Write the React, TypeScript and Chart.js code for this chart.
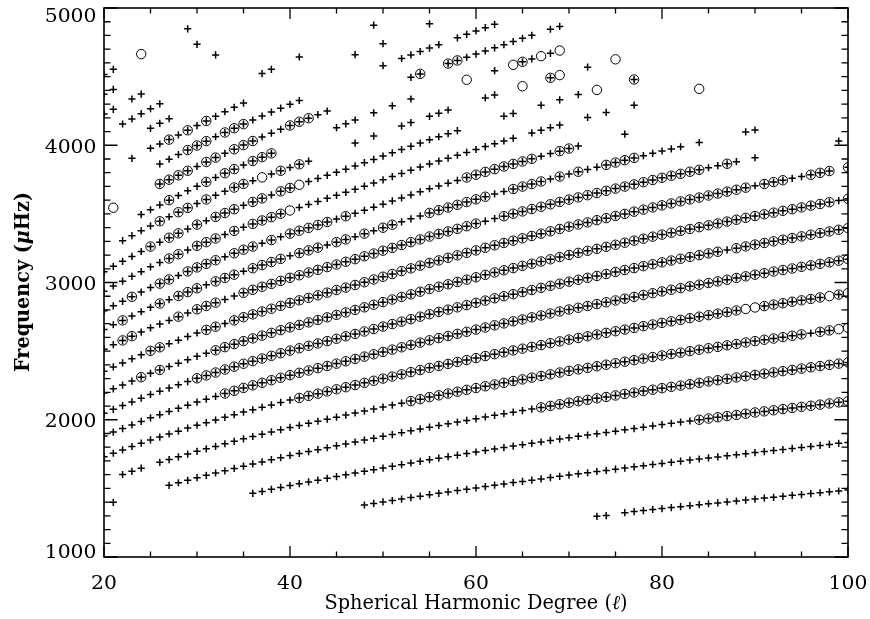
import React, { useEffect, useRef } from "react";
import { Chart, registerables } from "chart.js";

Chart.register(...registerables);

// ---- axis ranges and tick labels ----
const X_MIN = 20;
const X_MAX = 100;
const Y_MIN = 1000;
const Y_MAX = 5000;
const X_TICK_VALUES = [20, 40, 60, 80, 100];
const X_TICK_LABELS = ["20", "40", "60", "80", "100"];
const Y_TICK_VALUES = [1000, 2000, 3000, 4000, 5000];
const Y_TICK_LABELS = ["1000", "2000", "3000", "4000", "5000"];
const X_MINOR_STEP = 5;
const Y_MINOR_STEP = 100;

// marker codes: '+' = plus, 'o' = circle with plus, 'c' = open circle, '.' = no point
const plus = (n: number) => "+".repeat(n);
const ring = (n: number) => "o".repeat(n);
const gap = (n: number) => ".".repeat(n);

// ---- ridges: first degree, frequencies (uHz) per degree, marker codes ----
const RIDGE_A_START = 73;
const RIDGE_A_FREQ = [1296, 1302, null, 1323, 1331, 1338, 1346, 1353, 1360, 1367, 1374, 1381, 1388, 1394, 1401, 1408, 1415, 1422, 1429, 1435, 1442, 1449, 1455, 1462, 1468, 1475, 1481, 1488];
const RIDGE_A_MARK = "++." + plus(25);

const RIDGE_B_START = 48;
const RIDGE_B_FREQ = [1379, 1390, 1401, 1411, 1422, 1433, 1443, 1454, 1464, 1474, 1484, 1493, 1503, 1513, 1523, 1532, 1542, 1551, 1560, 1569, 1579, 1588, 1597, 1606, 1614, 1623, 1631, 1640, 1648, 1657, 1665, 1674, 1682, 1690, 1698, 1706, 1714, 1722, 1729, 1737, 1745, 1753, 1761, 1768, 1776, 1783, 1791, 1798, 1805, 1813, 1820, 1828, 1835];
const RIDGE_B_MARK = plus(53);

const RIDGE_C_START = 36;
const RIDGE_C_FREQ = [1464, 1478, 1493, 1507, 1521, 1534, 1547, 1560, 1573, 1586, 1599, 1612, 1624, 1636, 1648, 1661, 1673, 1685, 1697, 1709, 1720, 1731, 1742, 1754, 1765, 1776, 1787, 1797, 1808, 1818, 1828, 1838, 1849, 1859, 1869, 1879, 1888, 1898, 1907, 1917, 1927, 1936, 1946, 1955, 1965, 1974, 1983, 1991, 2000, 2009, 2018, 2027, 2035, 2044, 2053, 2061, 2069, 2078, 2086, 2094, 2102, 2110, 2119, 2127, 2135];
const RIDGE_C_MARK = plus(48) + ring(17);

const RIDGE_D_START = 21;
const RIDGE_D_FREQ = [1398, null, null, null, null, null, 1522, 1541, 1559, 1578, 1595, 1612, 1628, 1645, 1662, 1678, 1693, 1709, 1724, 1740, 1754, 1768, 1782, 1796, 1810, 1824, 1838, 1852, 1865, 1879, 1892, 1906, 1919, 1933, 1946, 1958, 1971, 1983, 1995, 2007, 2020, 2032, 2044, 2055, 2067, 2078, 2090, 2101, 2113, 2124, 2135, 2145, 2156, 2166, 2177, 2188, 2198, 2209, 2219, 2230, 2240, 2249, 2259, 2269, 2279, 2288, 2298, 2308, 2317, 2327, 2336, 2345, 2354, 2363, 2373, 2382, 2391, 2400, 2409, 2418];
const RIDGE_D_MARK = "+" + gap(5) + plus(40) + ring(34);

const RIDGE_E_START = 22;
const RIDGE_E_FREQ = [1601, 1624, 1647, null, 1690, 1710, 1730, 1750, 1770, 1788, 1806, 1825, 1843, 1861, 1878, 1894, 1911, 1927, 1944, 1959, 1974, 1989, 2004, 2019, 2034, 2049, 2063, 2078, 2092, 2107, 2121, 2136, 2150, 2165, 2178, 2191, 2204, 2218, 2231, 2244, 2257, 2269, 2282, 2294, 2307, 2319, 2331, 2344, 2356, 2367, 2378, 2390, 2401, 2412, 2423, 2434, 2446, 2457, 2468, 2479, 2489, 2500, 2510, 2521, 2531, 2542, 2552, 2563, 2573, 2583, 2592, 2602, 2612, 2622, 2631, 2641, 2651, 2660, 2670];
const RIDGE_E_MARK = "+++." + plus(27) + ring(43) + "+" + "oo" + "cc";

const RIDGE_F_START = 20;
const RIDGE_F_FREQ = [1730, 1756, 1780, 1805, 1829, 1853, 1874, 1896, 1917, 1939, 1960, 1979, 1998, 2018, 2037, 2056, 2073, 2091, 2108, 2126, 2143, 2159, 2174, 2190, 2206, 2222, 2237, 2253, 2269, 2284, 2300, 2315, 2331, 2347, 2362, 2378, 2392, 2407, 2421, 2435, 2449, 2464, 2478, 2491, 2505, 2518, 2531, 2544, 2558, 2571, 2584, 2596, 2608, 2621, 2633, 2645, 2657, 2669, 2682, 2694, 2706, 2717, 2728, 2740, 2751, 2762, 2773, 2784, 2796, 2807, 2818, 2828, 2839, 2849, 2860, 2870, 2880, 2891, 2901, 2912, 2922];
const RIDGE_F_MARK = plus(21) + ring(48) + "cc" + ring(7) + "c" + "o" + "c";

const RIDGE_G_START = 20;
const RIDGE_G_FREQ = [1882, 1910, 1936, 1962, 1988, 2014, 2037, 2060, 2083, 2106, 2129, 2150, 2170, 2191, 2211, 2232, 2251, 2269, 2288, 2306, 2325, 2342, 2359, 2376, 2392, 2409, 2426, 2443, 2460, 2477, 2494, 2511, 2528, 2545, 2562, 2579, 2595, 2610, 2626, 2641, 2657, 2672, 2688, 2702, 2717, 2731, 2746, 2760, 2774, 2789, 2803, 2816, 2829, 2843, 2856, 2869, 2882, 2895, 2909, 2922, 2935, 2947, 2959, 2972, 2984, 2996, 3008, 3020, 3033, 3045, 3057, 3068, 3080, 3091, 3102, 3114, 3125, 3136, 3147, 3159, 3170];
const RIDGE_G_MARK = plus(13) + ring(68);

const RIDGE_H_START = 20;
const RIDGE_H_FREQ = [2047, 2076, 2103, 2130, 2157, 2184, 2208, 2231, 2255, 2278, 2302, 2323, 2344, 2366, 2387, 2408, 2427, 2446, 2466, 2485, 2504, 2521, 2539, 2556, 2573, 2590, 2608, 2625, 2643, 2661, 2679, 2697, 2715, 2733, 2751, 2769, 2786, 2802, 2819, 2835, 2852, 2868, 2885, 2900, 2915, 2930, 2945, 2961, 2976, 2991, 3006, 3020, 3034, 3048, 3062, 3077, 3091, 3105, 3119, 3133, 3147, 3160, 3173, 3186, 3199, 3212, 3224, 3237, 3250, 3263, 3276, 3288, 3300, 3312, 3324, 3336, 3348, 3360, 3372, 3384, 3396];
const RIDGE_H_MARK = plus(10) + ring(57) + "+" + ring(13);

const RIDGE_I_START = 20;
const RIDGE_I_FREQ = [2194, 2225, 2253, 2282, 2310, 2338, 2363, 2388, 2412, 2437, 2462, 2484, 2506, 2529, 2551, 2573, 2593, 2613, 2633, 2653, 2673, 2691, 2709, 2727, 2746, 2764, 2782, 2800, 2819, 2838, 2857, 2876, 2895, 2914, 2933, 2952, 2969, 2987, 3004, 3021, 3038, 3056, 3073, 3089, 3105, 3121, 3137, 3153, 3169, 3185, 3201, 3216, 3231, 3245, 3260, 3275, 3290, 3305, 3319, 3334, 3349, 3363, 3376, 3390, 3403, 3417, 3430, 3444, 3457, 3471, 3484, 3497, 3509, 3522, 3534, 3547, 3560, 3572, 3585, 3597, 3610];
const RIDGE_I_MARK = "++++o+o+++++" + ring(67) + "+" + "o";

const RIDGE_J_START = 20;
const RIDGE_J_FREQ = [2353, 2385, 2414, 2444, 2473, 2502, 2528, 2554, 2580, 2606, 2632, 2655, 2678, 2701, 2724, 2747, 2768, 2789, 2809, 2830, 2851, 2870, 2888, 2907, 2926, 2945, 2963, 2982, 3002, 3022, 3042, 3062, 3083, 3103, 3123, 3143, 3161, 3180, 3198, 3216, 3234, 3253, 3271, 3288, 3305, 3322, 3339, 3356, 3373, 3390, 3407, 3423, 3438, 3454, 3469, 3485, 3500, 3516, 3531, 3547, 3562, 3576, 3591, 3605, 3619, 3634, 3648, 3662, 3676, 3691, 3705, 3718, 3732, 3745, 3759, 3772, 3785, 3799, 3812, null, 3839];
const RIDGE_J_MARK = "+++++oo++++oo+" + ring(56) + "+" + "ooo" + "++" + "ooo" + "." + "o";

const RIDGE_K_START = 20;
const RIDGE_K_FREQ = [2514, 2547, 2578, 2609, 2639, 2670, 2697, 2724, 2751, 2778, 2805, 2829, 2853, 2877, 2901, 2925, 2947, 2969, 2990, 3012, 3034, 3053, 3073, 3092, 3112, 3131, 3151, 3170, 3191, 3211, 3232, 3252, 3273, 3294, 3314, 3335, 3354, 3372, 3391, 3410, 3429, 3447, 3466, 3483, 3501, 3518, 3535, 3552, 3570, 3587, 3604, 3620, 3636, 3652, 3668, 3684, 3699, 3715, 3731, 3747, 3763, 3778, 3792, 3807, 3821, 3836, 3851, 3865, 3880, null, 3909, null, null, null, null, null, null, null, null, 4031];
const RIDGE_K_MARK = "++oo++++o+ooo++" + ring(26) + "++" + ring(22) + "++" + "o" + "+" + "." + "+" + gap(8) + "+";

const RIDGE_L_START = 20;
const RIDGE_L_FREQ = [2657, 2692, 2724, 2756, 2787, 2819, 2847, 2875, 2902, 2930, 2958, 2983, 3008, 3033, 3057, 3082, 3104, 3127, 3149, 3172, 3194, 3214, 3234, 3254, 3274, 3294, 3314, 3334, 3356, 3377, 3399, 3421, 3442, 3464, 3485, 3507, 3527, 3546, 3566, 3586, 3606, 3625, 3645, 3663, 3681, 3699, 3717, 3736, 3754, 3772, 3790, 3807, 3824, 3840, 3857, 3874, 3891, 3908, 3924, 3941, 3958, 3973, 3989, null, 4020, null, null, null, null, 4097, 4111];
const RIDGE_L_MARK = "++o+++o+ooo+ooo+oooo+ooo+oo" + "+o+oo+++ooooooo++oooo+o+o+" + "+" + "oooo" + "+++++" + "." + "+" + "...." + "++";

const RIDGE_M_START = 20;
const RIDGE_M_FREQ = [2794, 2830, 2863, 2896, 2930, 2963, 2992, 3022, 3051, 3081, 3110, 3136, 3162, 3187, 3213, 3239, 3262, 3286, 3309, 3333, 3356, 3377, 3398, 3419, 3441, 3462, 3483, 3504, 3526, 3549, 3571, 3594, 3616, 3638, 3661, 3683, 3703, 3724, 3744, 3765, 3785, 3806, 3826, 3845, 3864, 3882, 3901, 3920, 3939, 3957, 3976, 3994, null, null, null, null, 4081];
const RIDGE_M_MARK = "+++o++oo+oooo+ooo+o+ooooo+o" + "++++++++++++oooooooo++oo+" + "...." + "+";

const RIDGE_N_START = 20;
const RIDGE_N_FREQ = [2937, 2975, 3010, 3045, 3079, 3114, 3145, 3175, 3206, 3236, 3267, 3294, 3321, 3349, 3376, 3403, 3427, 3452, 3476, 3501, 3525, 3547, 3569, 3591, 3613, 3635, 3657, 3679, 3702, 3725, 3748, 3772, 3795, 3818, 3841, 3864, 3885, 3906, 3927, 3948, 3969, 3990, 4011, 4031, 4051, null, 4090, 4109, 4128, 4147, null, null, 4203, null, 4239, null, null, 4292, null, null, null, null, null, null, 4411];
const RIDGE_N_MARK = "+++++++oo+ooo+o+ooooc++++++" + plus(18) + "." + "++++" + ".." + "+" + "." + "+" + ".." + "+" + "......" + "c";

const RIDGE_O_START = 20;
const RIDGE_O_FREQ = [3079, 3118, 3154, 3190, 3226, 3262, 3294, 3326, 3358, 3390, 3422, 3450, 3478, 3506, 3534, 3562, 3587, 3613, 3638, 3664, 3689, 3712, 3735, 3758, 3781, 3803, 3826, 3849, 3873, 3897, 3921, 3945, 3969, 3992, 4016, 4040, 4062, 4084, 4106, null, null, null, null, 4212, 4232, null, null, 4292, null, 4331, null, 4369, null, 4403, null, null, null, 4479];
const RIDGE_O_MARK = "+++++o+oo+o+ooo+oo+ooc+++++" + plus(12) + "...." + "++..+.+.+.c...o";

const RIDGE_P_START = 22;
const RIDGE_P_FREQ = [3305, 3341, 3377, 3412, 3446, 3479, 3512, 3544, 3575, 3605, 3635, 3664, 3692, 3718, 3742, 3766, 3790, 3814, 3838, 3861, 3884, null, null, null, null, 4016, null, 4067, null, null, 4140, 4165, null, 4211, 4234, 4257, null, null, null, 4345, 4367, null, null, 4430, null, null, 4491, 4511, null, null, 4569, null, null, 4626];
const RIDGE_P_MARK = "++++o+oo+o++oo+c+o+o+" + "....+.+..++.+++...++..c..oc..+..c";

const RIDGE_Q_START = 24;
const RIDGE_Q_FREQ = [3495, 3530, 3565, 3600, 3634, 3668, 3701, 3733, 3765, 3796, 3826, 3856, 3885, 3913, 3941, null, null, null, null, null, null, 4128, 4156, 4184, null, 4236, null, 4287, null, 4337, null, null, null, null, null, 4477, null, null, 4543, null, 4586, 4608, 4629, 4649, 4670, 4690];
const RIDGE_Q_MARK = "+++o+++o+oo+ooo" + "......" + "+++" + ".+.+.+" + "....." + "c" + ".." + "+" + "." + "co+c+c";

const RIDGE_R_START = 21;
const RIDGE_R_FREQ = [3545, null, null, null, null, 3718, 3749, 3781, 3814, 3846, 3878, 3910, 3941, 3971, 4001, 4031, 4060, 4088, 4116, 4144, 4171, 4197, 4223, 4249, null, null, null, null, null, null, null, null, 4495, 4520, null, null, 4595, 4618, 4641, 4664, 4687, 4710, 4733, 4756, 4779, 4801, null, 4845, 4866];
const RIDGE_R_MARK = "c" + "...." + "oooo+oo+ooo+++ooo++" + "........" + "+o" + ".." + "oo" + "++++++++" + "." + "++";

const RIDGE_S_START = 26;
const RIDGE_S_FREQ = [3864, 3898, 3932, 3965, 3998, 4030, 4062, 4093, 4124, 4154, 4184, 4213, 4242, 4270, 4298, 4326, null, null, null, null, null, null, null, null, 4580, null, 4632, 4658, 4683, 4708, 4733, null, 4783, 4808, 4833, 4857, 4881];
const RIDGE_S_MARK = "+++ooo+ooo++++++" + "........" + "+" + "." + "+++++" + "." + "+++++";

const RIDGE_T_START = 23;
const RIDGE_T_FREQ = [3905, null, 3978, 4009, 4041, 4075, 4109, 4143, 4177, 4211, 4244, 4276, 4307, null, null, null, null, null, null, null, null, null, null, null, 4660, null, null, 4740, null, null, null, null, 4885];
const RIDGE_T_MARK = "+" + "." + "++o+o+o++++" + "..........." + "+" + ".." + "+" + "...." + "+";

const RIDGE_U_START = 25;
const RIDGE_U_FREQ = [4123, 4160, 4193, null, null, null, null, null, null, null, null, null, 4522, 4553, null, null, 4643, null, null, null, null, null, null, null, 4875];
const RIDGE_U_MARK = "+++" + "........." + "++" + ".." + "+" + "......." + "+";

const RIDGE_V_START = 22;
const RIDGE_V_FREQ = [4155, 4192, 4230, 4266, 4302];
const RIDGE_V_MARK = "+++++";

const RIDGE_W_START = 20;
const RIDGE_W_FREQ = [4228, 4262, null, 4337, 4373, null, null, null, null, null, null, null, 4658];
const RIDGE_W_MARK = "++.++.......+";

const RIDGE_X_START = 20;
const RIDGE_X_FREQ = [4372, 4407, null, null, null, null, null, null, null, null, 4735];
const RIDGE_X_MARK = "++........+";

const RIDGE_Y_START = 20;
const RIDGE_Y_FREQ = [4516, 4553, null, null, 4664, null, null, null, null, 4848];
const RIDGE_Y_MARK = "++..c....+";

type Ridge = { start: number; freq: (number | null)[]; mark: string };

const RIDGES: Ridge[] = [
  { start: RIDGE_A_START, freq: RIDGE_A_FREQ, mark: RIDGE_A_MARK },
  { start: RIDGE_B_START, freq: RIDGE_B_FREQ, mark: RIDGE_B_MARK },
  { start: RIDGE_C_START, freq: RIDGE_C_FREQ, mark: RIDGE_C_MARK },
  { start: RIDGE_D_START, freq: RIDGE_D_FREQ, mark: RIDGE_D_MARK },
  { start: RIDGE_E_START, freq: RIDGE_E_FREQ, mark: RIDGE_E_MARK },
  { start: RIDGE_F_START, freq: RIDGE_F_FREQ, mark: RIDGE_F_MARK },
  { start: RIDGE_G_START, freq: RIDGE_G_FREQ, mark: RIDGE_G_MARK },
  { start: RIDGE_H_START, freq: RIDGE_H_FREQ, mark: RIDGE_H_MARK },
  { start: RIDGE_I_START, freq: RIDGE_I_FREQ, mark: RIDGE_I_MARK },
  { start: RIDGE_J_START, freq: RIDGE_J_FREQ, mark: RIDGE_J_MARK },
  { start: RIDGE_K_START, freq: RIDGE_K_FREQ, mark: RIDGE_K_MARK },
  { start: RIDGE_L_START, freq: RIDGE_L_FREQ, mark: RIDGE_L_MARK },
  { start: RIDGE_M_START, freq: RIDGE_M_FREQ, mark: RIDGE_M_MARK },
  { start: RIDGE_N_START, freq: RIDGE_N_FREQ, mark: RIDGE_N_MARK },
  { start: RIDGE_O_START, freq: RIDGE_O_FREQ, mark: RIDGE_O_MARK },
  { start: RIDGE_P_START, freq: RIDGE_P_FREQ, mark: RIDGE_P_MARK },
  { start: RIDGE_Q_START, freq: RIDGE_Q_FREQ, mark: RIDGE_Q_MARK },
  { start: RIDGE_R_START, freq: RIDGE_R_FREQ, mark: RIDGE_R_MARK },
  { start: RIDGE_S_START, freq: RIDGE_S_FREQ, mark: RIDGE_S_MARK },
  { start: RIDGE_T_START, freq: RIDGE_T_FREQ, mark: RIDGE_T_MARK },
  { start: RIDGE_U_START, freq: RIDGE_U_FREQ, mark: RIDGE_U_MARK },
  { start: RIDGE_V_START, freq: RIDGE_V_FREQ, mark: RIDGE_V_MARK },
  { start: RIDGE_W_START, freq: RIDGE_W_FREQ, mark: RIDGE_W_MARK },
  { start: RIDGE_X_START, freq: RIDGE_X_FREQ, mark: RIDGE_X_MARK },
  { start: RIDGE_Y_START, freq: RIDGE_Y_FREQ, mark: RIDGE_Y_MARK },
];

function buildPoints() {
  const crosses: { x: number; y: number }[] = [];
  const rings: { x: number; y: number }[] = [];
  for (const r of RIDGES) {
    r.freq.forEach((f, i) => {
      const m = r.mark.charAt(i);
      if (f == null || !m || m === ".") return;
      const pt = { x: r.start + i, y: f };
      if (m === "+" || m === "o") crosses.push(pt);
      if (m === "o" || m === "c") rings.push(pt);
    });
  }
  return { crosses, rings };
}

const SERIF = '"DejaVu Serif", "Liberation Serif", serif';

function drawRich(
  ctx: CanvasRenderingContext2D,
  parts: { t: string; font: string }[],
  cx: number,
  baseline: number,
  targetW: number,
  rotate: boolean
) {
  ctx.save();
  ctx.translate(cx, baseline);
  if (rotate) ctx.rotate(-Math.PI / 2);
  let total = 0;
  const ws = parts.map((p) => {
    ctx.font = p.font;
    const w = ctx.measureText(p.t).width;
    total += w;
    return w;
  });
  ctx.scale(targetW / total, 1);
  ctx.textAlign = "left";
  ctx.textBaseline = "alphabetic";
  let x = -total / 2;
  parts.forEach((p, i) => {
    ctx.font = p.font;
    ctx.fillText(p.t, x, 0);
    x += ws[i];
  });
  ctx.restore();
}

function drawScaled(ctx: CanvasRenderingContext2D, text: string, x: number, y: number, sx: number, align: CanvasTextAlign) {
  ctx.save();
  ctx.translate(x, y);
  ctx.scale(sx, 1);
  ctx.textAlign = align;
  ctx.textBaseline = "alphabetic";
  ctx.fillText(text, 0, 0);
  ctx.restore();
}

const framePlugin = {
  id: "frame",
  afterDraw(chart: any) {
    const { ctx, chartArea: a, scales } = chart;
    const xs = scales.x;
    const ys = scales.y;
    ctx.save();
    ctx.strokeStyle = "#000";
    ctx.fillStyle = "#000";
    ctx.lineWidth = 1.6;
    ctx.strokeRect(a.left, a.top, a.right - a.left, a.bottom - a.top);
    ctx.lineWidth = 1.3;
    ctx.beginPath();
    for (let v = X_MIN; v <= X_MAX + 1e-6; v += X_MINOR_STEP) {
      const px = xs.getPixelForValue(v);
      const major = X_TICK_VALUES.includes(v);
      const len = major ? 11 : 5.5;
      ctx.moveTo(px, a.bottom);
      ctx.lineTo(px, a.bottom - len);
      ctx.moveTo(px, a.top);
      ctx.lineTo(px, a.top + len);
    }
    for (let v = Y_MIN; v <= Y_MAX + 1e-6; v += Y_MINOR_STEP) {
      const py = ys.getPixelForValue(v);
      const major = Y_TICK_VALUES.includes(v);
      const len = major ? 13.5 : 6.5;
      ctx.moveTo(a.left, py);
      ctx.lineTo(a.left + len, py);
      ctx.moveTo(a.right, py);
      ctx.lineTo(a.right - len, py);
    }
    ctx.stroke();

    ctx.font = `18.5px ${SERIF}`;
    X_TICK_VALUES.forEach((v, i) => {
      const px = xs.getPixelForValue(v);
      drawScaled(ctx, X_TICK_LABELS[i], px, 588.5, 1.1, "center");
    });
    Y_TICK_VALUES.forEach((v, i) => {
      const py = ys.getPixelForValue(v);
      const c = Math.min(Math.max(py + 1, 15), 551.7);
      drawScaled(ctx, Y_TICK_LABELS[i], 96.5, c + 6.7, 1.1, "right");
    });

    drawRich(
      ctx,
      [
        { t: "Spherical Harmonic Degree (", font: `20px ${SERIF}` },
        { t: "\u2113", font: `italic 20px ${SERIF}` },
        { t: ")", font: `20px ${SERIF}` },
      ],
      476,
      609,
      303,
      false
    );
    drawRich(
      ctx,
      [
        { t: "Frequency (", font: `bold 20px ${SERIF}` },
        { t: "\u03bc", font: `italic bold 20px ${SERIF}` },
        { t: "Hz)", font: `bold 20px ${SERIF}` },
      ],
      29,
      282,
      180,
      true
    );
    ctx.restore();
  },
};

export default function App() {
  const canvasRef = useRef<HTMLCanvasElement | null>(null);

  useEffect(() => {
    const canvas = canvasRef.current;
    if (!canvas) return;
    const { crosses, rings } = buildPoints();
    const chart = new Chart(canvas, {
      type: "scatter",
      data: {
        datasets: [
          {
            data: rings,
            pointStyle: "circle",
            pointRadius: 4.7,
            pointHoverRadius: 4.7,
            pointBorderWidth: 1,
            borderWidth: 1,
            pointBorderColor: "#000",
            borderColor: "#000",
            pointBackgroundColor: "rgba(0,0,0,0)",
            backgroundColor: "rgba(0,0,0,0)",
            showLine: false,
          },
          {
            data: crosses,
            pointStyle: "cross",
            pointRadius: 3.6,
            pointHoverRadius: 3.6,
            pointBorderWidth: 1.5,
            borderWidth: 1.5,
            pointBorderColor: "#000",
            borderColor: "#000",
            backgroundColor: "#000",
            showLine: false,
          },
        ],
      } as any,
      options: {
        animation: false,
        responsive: false,
        devicePixelRatio: 1,
        events: [],
        layout: { padding: { top: 8, right: 22, left: 0, bottom: 0 } },
        plugins: { legend: { display: false }, tooltip: { enabled: false }, title: { display: false } },
        scales: {
          x: {
            type: "linear",
            min: X_MIN,
            max: X_MAX,
            grid: { display: false },
            border: { display: false },
            ticks: { display: false },
            afterFit: (s: any) => {
              s.height = 62;
            },
          },
          y: {
            type: "linear",
            min: Y_MIN,
            max: Y_MAX,
            grid: { display: false },
            border: { display: false },
            ticks: { display: false },
            afterFit: (s: any) => {
              s.width = 104;
            },
          },
        },
      } as any,
      plugins: [framePlugin],
    });
    return () => chart.destroy();
  }, []);

  return (
    <div style={{ position: "fixed", left: 0, top: 0, width: 870, height: 619, background: "#fff" }}>
      <canvas ref={canvasRef} width={870} height={619} style={{ display: "block" }} />
    </div>
  );
}
